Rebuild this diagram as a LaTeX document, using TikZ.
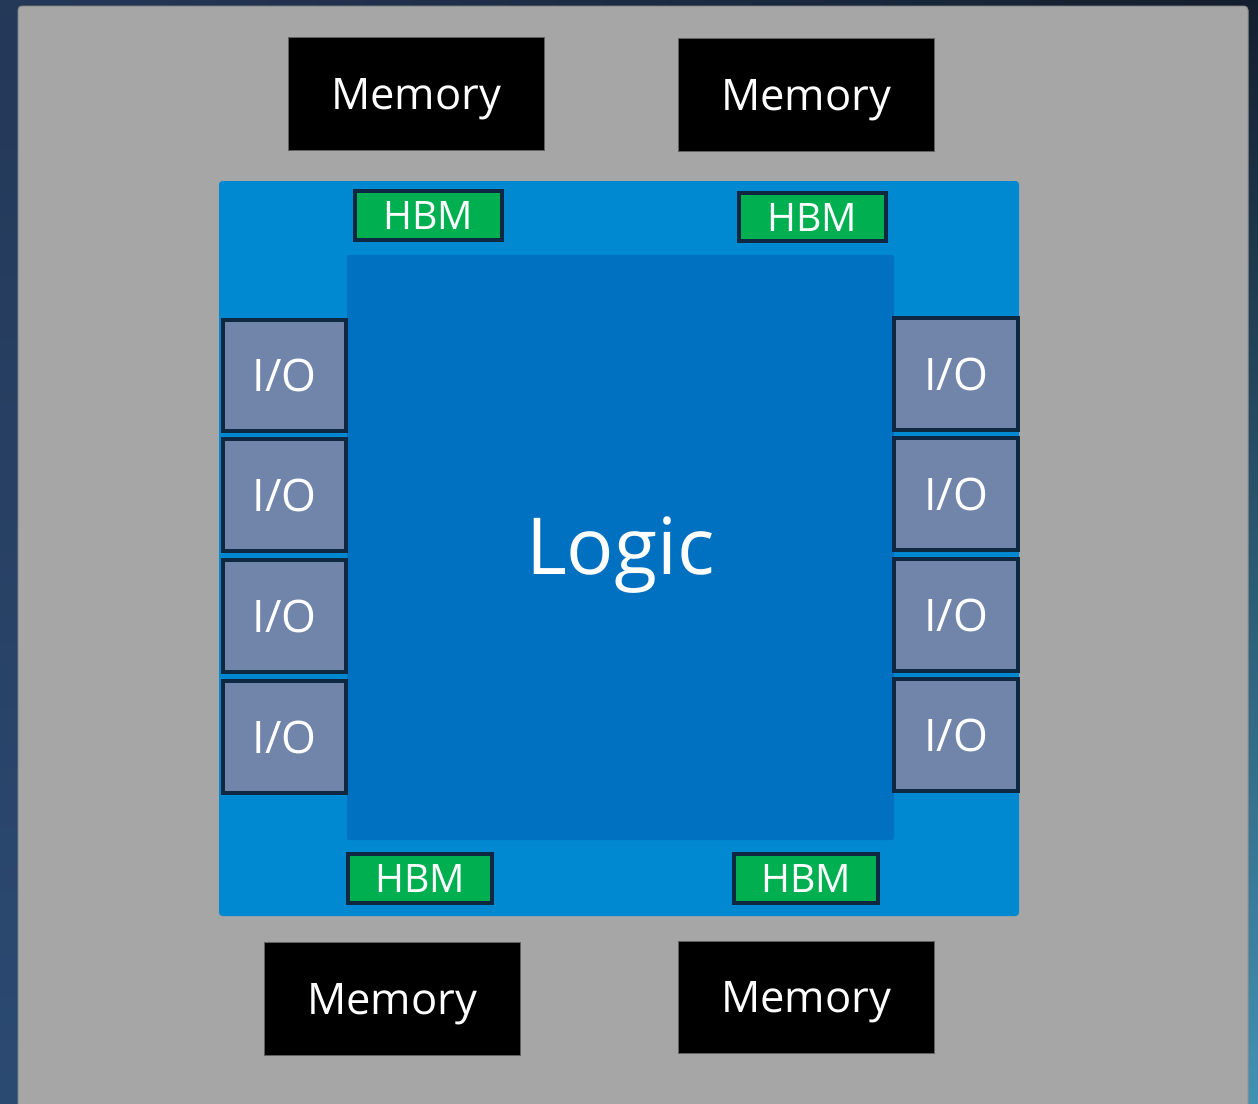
\documentclass[tikz,border=0pt]{standalone}
\usepackage{fontspec}
\setmainfont{Open Sans}
\usetikzlibrary{positioning}

\tikzset{every picture/.style={line width=0.75pt}}
\tikzset{
  memshape/.style={fill=black, draw={rgb, 255:red, 96; green, 96; blue, 96}, line width=0.75pt},
  hbmshape/.style={fill={rgb, 255:red, 0; green, 176; blue, 80}, draw={rgb, 255:red, 14; green, 40; blue, 65}, line width=3pt},
  ioshape/.style={fill={rgb, 255:red, 113; green, 132; blue, 170}, draw={rgb, 255:red, 14; green, 40; blue, 65}, line width=3pt},
  memtext/.style={text=white, inner sep=0pt, text height=23.5pt, text depth=0pt, font=\fontsize{32.6}{40}\selectfont},
  iotext/.style={text=white, inner sep=0pt, text height=24pt, text depth=0pt, font=\fontsize{33.6}{40}\selectfont},
  hbmtext/.style={text=white, inner sep=0pt, text height=21pt, text depth=0pt, font=\fontsize{29.4}{35}\selectfont},
  logictext/.style={text=white, inner sep=0pt, text height=42pt, text depth=0pt, font=\fontsize{59}{70}\selectfont}
}

\begin{document}
\begin{tikzpicture}[x=0.75pt,y=0.75pt,yscale=-1,xscale=1]
\useasboundingbox (0,0) rectangle (1258,1104);

%Background
\fill [left color={rgb, 255:red, 36; green, 56; blue, 88}, right color={rgb, 255:red, 20; green, 30; blue, 46}] (0,0) rectangle (1258,1104) ;
\fill [top color={rgb, 255:red, 36; green, 56; blue, 88}, bottom color={rgb, 255:red, 43; green, 74; blue, 114}] (0,0) rectangle (18,1104) ;
\fill [top color={rgb, 255:red, 20; green, 30; blue, 46}, bottom color={rgb, 255:red, 66; green, 146; blue, 178}] (1248,0) rectangle (1258,1104) ;
%Shape: Grey board
\draw [fill={rgb, 255:red, 166; green, 166; blue, 166}, draw={rgb, 255:red, 140; green, 140; blue, 140}, rounded corners=3pt] (18,6) rectangle (1248,1115) ;

%Shape: Package
\fill [fill={rgb, 255:red, 0; green, 136; blue, 208}, rounded corners=2.5pt] (219,181) rectangle (1019,916) ;
%Shape: Logic die
\fill [fill={rgb, 255:red, 0; green, 112; blue, 192}, rounded corners=1.5pt] (347,255) rectangle (894,840) ;

%Shape: Memory
\draw [memshape] (288,37) rectangle (544,150) ;
\draw [memshape] (678,38) rectangle (934,151) ;
\draw [memshape] (264,942) rectangle (520,1055) ;
\draw [memshape] (678,941) rectangle (934,1053) ;

%Shape: HBM
\draw [hbmshape] (355,191) rectangle (502,240) ;
\draw [hbmshape] (739,193) rectangle (886,241) ;
\draw [hbmshape] (348,854) rectangle (492,903) ;
\draw [hbmshape] (734,854) rectangle (878,903) ;

%Shape: I/O left
\draw [ioshape] (223,320) rectangle (346,431) ;
\draw [ioshape] (223,439) rectangle (346,551) ;
\draw [ioshape] (223,560) rectangle (346,672) ;
\draw [ioshape] (223,681) rectangle (346,793) ;
%Shape: I/O right
\draw [ioshape] (894,318) rectangle (1018,430) ;
\draw [ioshape] (894,438) rectangle (1018,550) ;
\draw [ioshape] (894,559) rectangle (1018,671) ;
\draw [ioshape] (894,679) rectangle (1018,791) ;

% Text Node
\node [memtext] (mem1) at (416,93.5) {Memory};
% Text Node
\node [memtext] (mem2) at (806,94.5) {Memory};
% Text Node
\node [memtext] (mem3) at (392,998.5) {Memory};
% Text Node
\node [memtext] (mem4) at (806,997) {Memory};
% Text Node
\node [hbmtext] (hbm1) at (428.5,215.5) {HBM};
% Text Node
\node [hbmtext] (hbm2) at (812.5,217) {HBM};
% Text Node
\node [hbmtext] (hbm3) at (420,878.5) {HBM};
% Text Node
\node [hbmtext] (hbm4) at (806,878.5) {HBM};
% Text Node
\node [iotext] (ioL1) at (284.5,375.5) {I/O};
% Text Node
\node [iotext] (ioL2) at (284.5,495) {I/O};
% Text Node
\node [iotext] (ioL3) at (284.5,616) {I/O};
% Text Node
\node [iotext] (ioL4) at (284.5,737) {I/O};
% Text Node
\node [iotext] (ioR1) at (956,374) {I/O};
% Text Node
\node [iotext] (ioR2) at (956,494) {I/O};
% Text Node
\node [iotext] (ioR3) at (956,615) {I/O};
% Text Node
\node [iotext] (ioR4) at (956,735) {I/O};
% Text Node
\node [logictext] (logic) at (620.5,546) {Logic};

\end{tikzpicture}
\end{document}
